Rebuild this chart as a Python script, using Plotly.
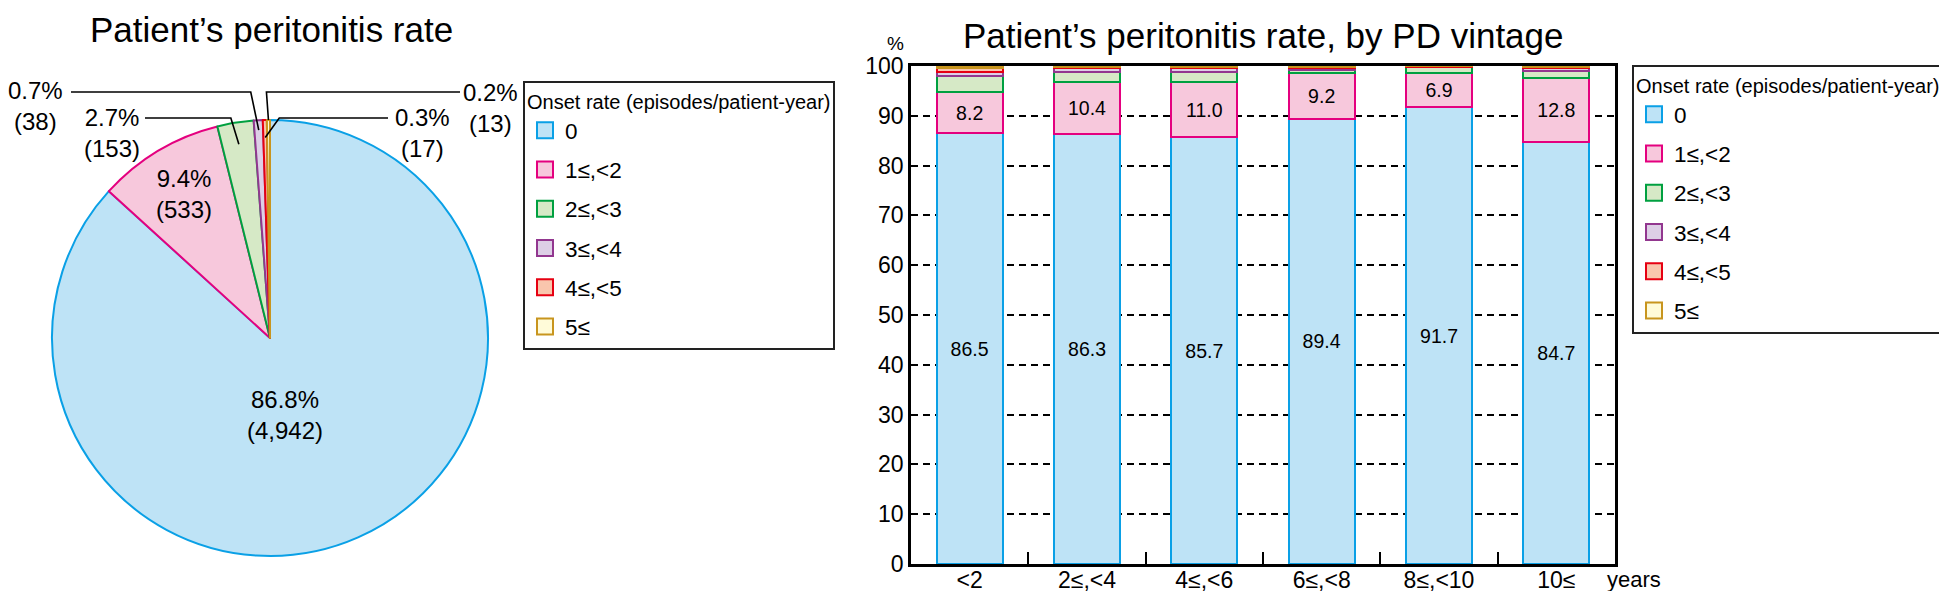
import math
import plotly.graph_objects as go

W, H = 1947, 591
FONT = "Liberation Sans, Arial, sans-serif"

# ---------------- data ----------------
rate_categories = ["0", "1≤,<2", "2≤,<3", "3≤,<4", "4≤,<5", "5≤"]
pie_counts = [4942, 533, 153, 38, 17, 13]

vintage_labels = ["<2", "2≤,<4", "4≤,<6", "6≤,<8", "8≤,<10", "10≤"]
share_0 = [86.5, 86.3, 85.7, 89.4, 91.7, 84.7]
share_1_2 = [8.2, 10.4, 11.0, 9.2, 6.9, 12.8]
share_2_3 = [3.3, 2.0, 2.1, 0.6, 1.1, 1.4]
share_3_4 = [0.8, 0.9, 0.8, 0.4, 0.2, 0.6]
share_4_5 = [0.7, 0.2, 0.2, 0.2, 0.05, 0.3]
share_5p = [0.5, 0.2, 0.2, 0.2, 0.05, 0.2]

legend_title = "Onset rate (episodes/patient-year)"
title_pie = "Patient’s peritonitis rate"
title_bar = "Patient’s peritonitis rate, by PD vintage"

# ---------------- styles ----------------
fills = ["#bee3f6", "#f7c8dc", "#d6e9c6", "#ddcfe6", "#f9c6ad", "#fffbd9"]
edges = ["#0aa0e6", "#e4007f", "#00a040", "#92378f", "#e60012", "#c8951e"]


def px(x):
    return x / W


def py(y):
    return 1 - y / H


# pie geometry (pixels)
CX, CY, R = 262, 330, 218

fig = go.Figure()

fig.add_trace(go.Pie(
    labels=rate_categories, values=pie_counts, sort=False,
    direction="clockwise", rotation=0,
    marker=dict(colors=fills, line=dict(color=edges, width=2)),
    textinfo="none", showlegend=False,
    domain=dict(x=[px(CX - R), px(CX + R)], y=[py(CY + R), py(CY - R)]),
))

# legend entries for the pie (left legend)
for i, (cat, f, e) in enumerate(zip(rate_categories, fills, edges)):
    fig.add_trace(go.Scatter(
        x=[None], y=[None], mode="markers", name=cat,
        marker=dict(symbol="square", size=16, color=f, line=dict(color=e, width=2)),
        legend="legend", legendgroup=f"pie{i}", hoverinfo="skip",
    ))

# stacked bars
series = [share_0, share_1_2, share_2_3, share_3_4, share_4_5, share_5p]
for i, (cat, vals, f, e) in enumerate(zip(rate_categories, series, fills, edges)):
    labelled = i < 2
    fig.add_trace(go.Bar(
        x=vintage_labels, y=vals, name=cat,
        marker=dict(color=f, line=dict(color=e, width=2)),
        text=[f"{v:.1f}" for v in vals] if labelled else None,
        textposition="inside" if labelled else "none",
        insidetextanchor="middle", textangle=0,
        textfont=dict(size=19.5, color="black", family=FONT),
        showlegend=False, legendgroup=f"bar{i}",
        xaxis="x", yaxis="y",
    ))
    # legend entry (same group, so clicking it toggles the bar series)
    fig.add_trace(go.Scatter(
        x=[None], y=[None], mode="markers", name=cat,
        marker=dict(symbol="square", size=16, color=f, line=dict(color=e, width=2)),
        legend="legend2", legendgroup=f"bar{i}", hoverinfo="skip",
    ))

# ---------------- pie labels ----------------
total = sum(pie_counts)
mids = []
cum = 0
for c in pie_counts:
    mids.append((cum + c / 2) / total * 360)
    cum += c


def pie_pt(angle, rf):
    a = math.radians(angle)
    return CX + rf * R * math.sin(a), CY - rf * R * math.cos(a)


def label_text(i):
    return f"{pie_counts[i] / total * 100:.1f}%<br>({pie_counts[i]:,})"


annotations = []
shapes = []

# inside labels
inside = {0: (169, 0.36), 1: (mids[1], 0.77)}
for i, (ang, rf) in inside.items():
    x, y = pie_pt(ang, rf)
    annotations.append(dict(x=px(x), y=py(y), xref="paper", yref="paper",
                            text=label_text(i), showarrow=False,
                            font=dict(size=24, color="black", family=FONT),
                            xanchor="center", yanchor="middle"))

# outside labels: (text centre x, y), leader radius factor, kink y, kink dx, line start x
outside = {
    3: ((27, 98), 0.955, 84, -8, 63),
    2: ((104, 125), 0.90, 110, -8, 137),
    4: ((414, 125), 0.92, 110, 14, 380),
    5: ((482, 100), 1.0, 84, -2, 452),
}
for i, ((tx, ty), rf, ky, kdx, sx) in outside.items():
    annotations.append(dict(x=px(tx), y=py(ty), xref="paper", yref="paper",
                            text=label_text(i), showarrow=False,
                            font=dict(size=24, color="black", family=FONT),
                            xanchor="center", yanchor="middle"))
    ex, ey = pie_pt(mids[i], rf)
    kx = ex + kdx
    shapes.append(dict(type="path", xref="paper", yref="paper",
                       path=f"M {px(sx)} {py(ky)} L {px(kx)} {py(ky)} L {px(ex)} {py(ey)}",
                       line=dict(color="black", width=1.6)))

# titles and axis captions
annotations += [
    dict(x=px(263), y=py(22), xref="paper", yref="paper", text=title_pie, showarrow=False,
         font=dict(size=35, color="black", family=FONT), xanchor="center", yanchor="middle"),
    dict(x=px(1255), y=py(27), xref="paper", yref="paper", text=title_bar, showarrow=False,
         font=dict(size=35, color="black", family=FONT), xanchor="center", yanchor="middle"),
    dict(x=px(887), y=py(36), xref="paper", yref="paper", text="%", showarrow=False,
         font=dict(size=19, color="black", family=FONT), xanchor="center", yanchor="middle"),
    dict(x=px(1626), y=py(571), xref="paper", yref="paper", text="years", showarrow=False,
         borderpad=0,
         font=dict(size=22, color="black", family=FONT), xanchor="center", yanchor="middle"),
]

legend_common = dict(
    xanchor="left", yanchor="top", bordercolor="#222", borderwidth=2, bgcolor="white",
    font=dict(size=22.5, color="black", family=FONT),
    title=dict(text=legend_title, font=dict(size=20, color="black", family=FONT)),
    tracegroupgap=7,
)

fig.update_layout(
    width=W, height=H,
    margin=dict(l=0, r=0, t=0, b=0),
    paper_bgcolor="white", plot_bgcolor="white",
    template="none",
    font=dict(family=FONT, color="black"),
    barmode="stack", bargap=0.437,
    annotations=annotations, shapes=shapes,
    legend=dict(x=px(515), y=py(73), traceorder="grouped", **legend_common),
    legend2=dict(x=px(1624), y=py(57), traceorder="reversed+grouped", **legend_common),
    xaxis=dict(domain=[px(903), px(1607)], type="category",
               showline=True, mirror=True, linewidth=2.5, linecolor="black",
               ticks="inside", tickson="boundaries", ticklen=12, tickwidth=2, tickcolor="black",
               ticklabelstandoff=-6,
               tickfont=dict(size=23, color="black", family=FONT), showgrid=False, zeroline=False),
    yaxis=dict(domain=[py(556), py(58)], range=[0, 100], dtick=10, tick0=0,
               showline=True, mirror=True, linewidth=2.5, linecolor="black",
               showgrid=True, gridcolor="black", gridwidth=1.6, griddash="7px,5px",
               ticks="", tickfont=dict(size=23, color="black", family=FONT), zeroline=False),
)

fig.write_html("out.html")
